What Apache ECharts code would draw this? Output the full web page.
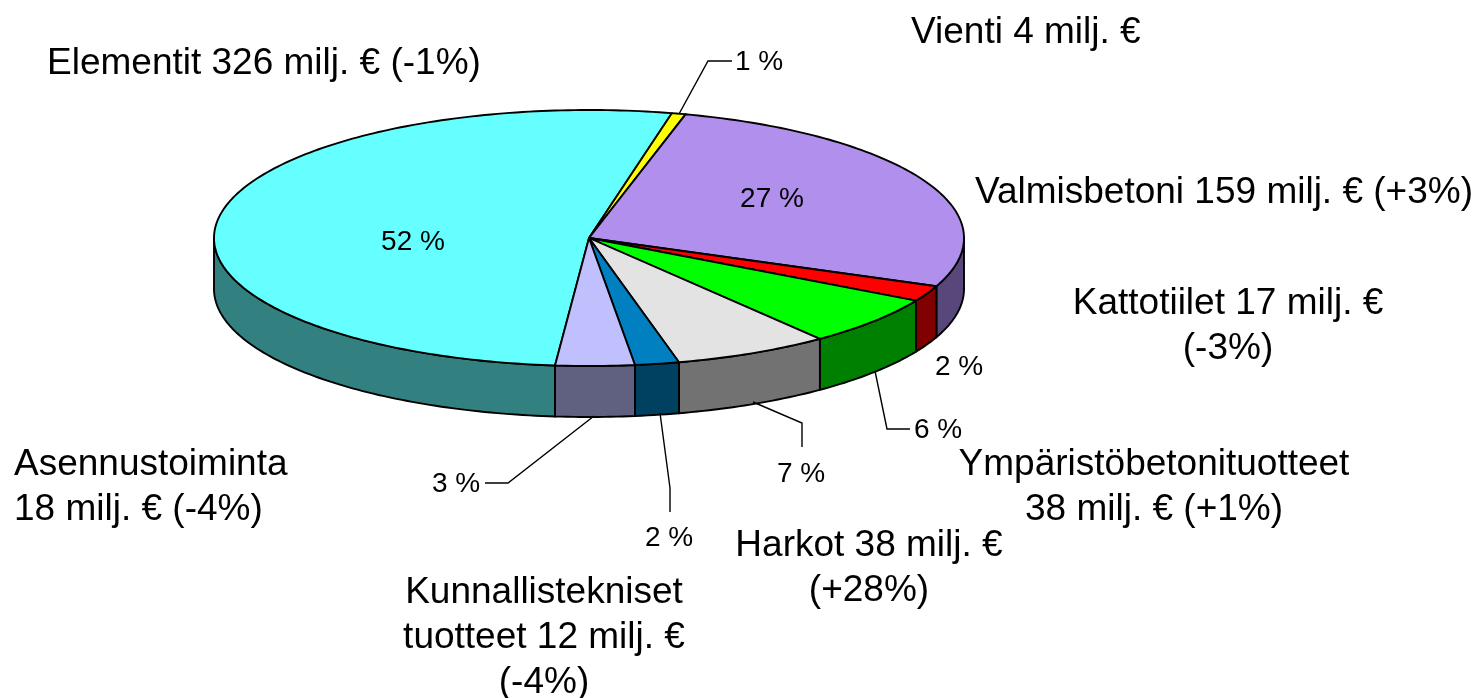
<!DOCTYPE html>
<html><head><meta charset="utf-8">
<style>html,body{margin:0;padding:0;background:#fff}#c{width:1482px;height:698px}</style>
<script src="https://cdn.jsdelivr.net/npm/echarts@6/dist/echarts.min.js"></script>
</head><body><div id="c"></div>
<script>
// Data (clockwise from the Elementit slice)
const categories = ['Elementit 326 milj. € (-1%)','Vienti 4 milj. €','Valmisbetoni 159 milj. € (+3%)','Kattotiilet 17 milj. €\n(-3%)','Ympäristöbetonituotteet\n38 milj. € (+1%)','Harkot 38 milj. €\n(+28%)','Kunnallistekniset\ntuotteet 12 milj. €\n(-4%)','Asennustoiminta\n18 milj. € (-4%)'];
const shares = [52.1,0.6,27,2,6.3,6.7,1.9,3.4];
const percentLabels = ['52 %','1 %','27 %','2 %','6 %','7 %','2 %','3 %'];

// Styling and layout
const topColors  = ['#66FFFF','#FFFF00','#B18FEC','#FF0000','#00FF00','#E3E3E3','#0080C0','#C0C0FF'];
const sideColors = ['#338080','#808000','#58477A','#800000','#008000','#727272','#004060','#606080'];
const CX=589, CY=238, RX=375, RY=128, DEPTH=51, START=-95.2;
const NAME_FONT='37px "Liberation Sans", Arial, sans-serif';
const PCT_FONT='28px "Liberation Sans", Arial, sans-serif';
const namePos=[[47,64,'left'],[911,33,'left'],[975,193,'left'],[1228,304,'center'],[1154,465,'center'],[869,546,'center'],[544,593,'center'],[14,465,'left']];
const pctPos=[[413,242],[759,62],[772,199],[959,367],[938,430],[801,474],[669,538],[456,484]];
const leaders=[null,[[679,114],[708,61],[732,61]],null,null,[[875,371],[887,429],[910,429]],[[753,402],[802,423],[802,447]],[[660,413],[670,488],[670,512]],[[594,416],[508,483],[485,483]]];

const total=shares.reduce((a,b)=>a+b,0);
function sliceRange(i){
  let before=0; for(let k=0;k<i;k++) before+=shares[k];
  // angles decrease going clockwise on screen (math convention, y up)
  const a0=START-before/total*360;
  return [a0,a0-shares[i]/total*360];
}
function pt(deg,dy){const r=deg*Math.PI/180;return [CX+RX*Math.cos(r),CY-RY*Math.sin(r)+(dy||0)];}
function arc(a0,a1,dy){
  const n=Math.max(2,Math.ceil(Math.abs(a1-a0)));const out=[];
  for(let k=0;k<=n;k++) out.push(pt(a0+(a1-a0)*k/n,dy));
  return out;
}
const LINE={stroke:'#000',lineWidth:1.9,lineJoin:'round'};

function renderWall(params){
  const i=params.dataIndex; const [a0,a1]=sliceRange(i);
  // the wall is visible where the rim lies on the lower half: math angle in (-180,0), i.e. modulo 360
  const children=[];
  for(const shift of [0,-360,360]){
    const lo=Math.max(Math.min(a0,a1)+shift,-180), hi=Math.min(Math.max(a0,a1)+shift,0);
    if(hi>lo){
      const t=arc(hi,lo,0), b=arc(lo,hi,DEPTH);
      children.push({type:'polygon',shape:{points:t.concat(b)},style:Object.assign({fill:sideColors[i]},LINE)});
    }
  }
  return {type:'group',children};
}
function renderTop(params){
  const i=params.dataIndex; const [a0,a1]=sliceRange(i);
  return {type:'polygon',shape:{points:[[CX,CY]].concat(arc(a0,a1,0))},style:Object.assign({fill:topColors[i]},LINE)};
}
function renderLabels(params){
  const i=params.dataIndex; const children=[];
  if(leaders[i]) children.push({type:'polyline',shape:{points:leaders[i]},style:{stroke:'#000',lineWidth:1.4,fill:null}});
  children.push({type:'text',style:{text:percentLabels[i],x:pctPos[i][0],y:pctPos[i][1],font:PCT_FONT,fill:'#000',align:'center',verticalAlign:'middle'}});
  const n=namePos[i];
  const lines=categories[i].split('\n');
  lines.forEach((s,k)=>children.push({type:'text',style:{text:s,x:n[0],y:n[1]+k*44.8,font:NAME_FONT,fill:'#000',align:n[2],verticalAlign:'middle'}}));
  return {type:'group',children};
}
const chart=echarts.init(document.getElementById('c'),null,{renderer:'canvas'});
chart.setOption({
  animation:false,backgroundColor:'#fff',
  series:[
    {type:'custom',coordinateSystem:'none',silent:true,z:1,data:shares,renderItem:renderWall},
    {type:'custom',coordinateSystem:'none',silent:true,z:2,data:shares,renderItem:renderTop},
    {type:'custom',coordinateSystem:'none',silent:true,z:3,data:shares,renderItem:renderLabels}
  ]
});
</script></body></html>
